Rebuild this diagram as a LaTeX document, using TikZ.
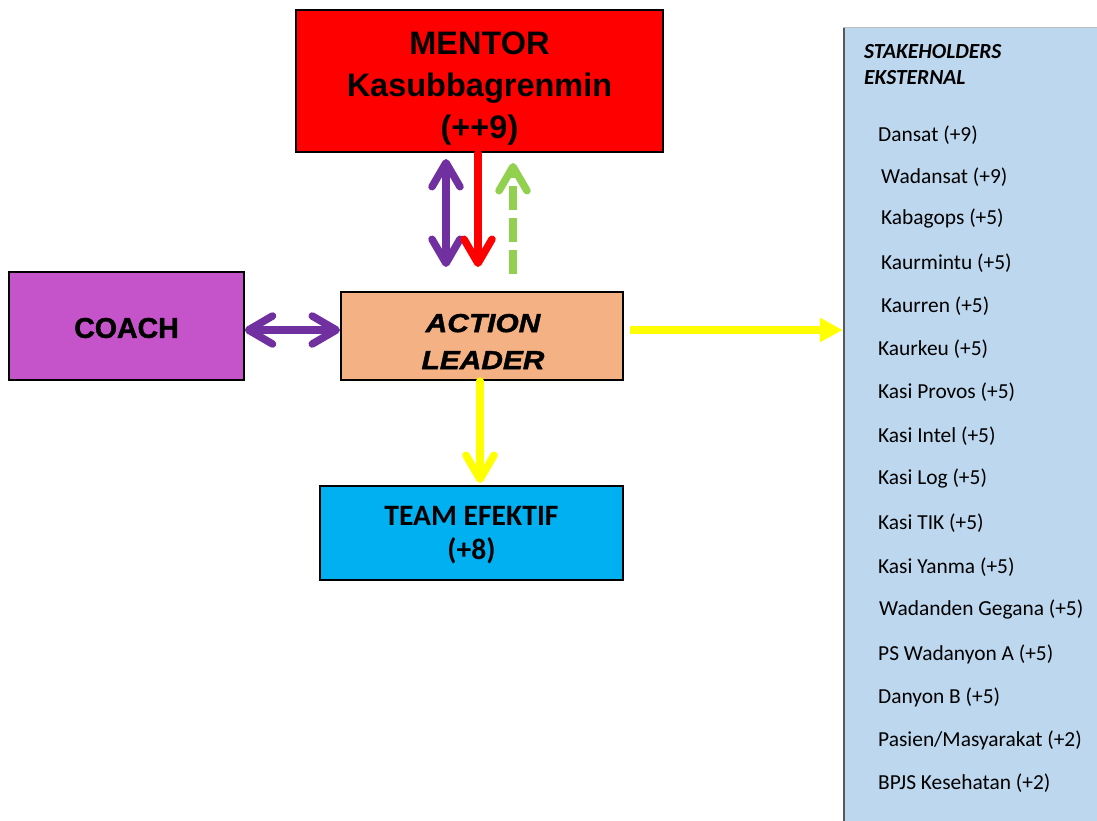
\documentclass[tikz,border=0pt]{standalone}
\usepackage{fontspec}
\setmainfont{Liberation Sans}
\newfontfamily\blackfont[FakeBold=1.5]{Liberation Sans}
\newfontfamily\actfont[FakeBold=1.5,FakeStretch=1.15]{Liberation Sans}
\newfontfamily\calfont{Carlito}
\usetikzlibrary{arrows.meta,calc}
\definecolor{cRed}{HTML}{FF0000}
\definecolor{cPurp}{HTML}{7030A0}
\definecolor{cCoach}{HTML}{C553C9}
\definecolor{cAct}{HTML}{F4B183}
\definecolor{cTeam}{HTML}{00B0F0}
\definecolor{cPanel}{HTML}{BDD7EE}
\definecolor{cGreen}{HTML}{92D050}
\definecolor{cYel}{HTML}{FFFF00}
\tikzset{
  box/.style={draw=black,line width=2pt,rectangle,inner sep=0pt},
  txt/.style={inner sep=0pt,align=center},
  chev/.style={line width=7.5pt,line cap=round},
  barb/.tip={Straight Barb[length=24pt,width=28pt,round]},
  item/.style={anchor=west,inner sep=0pt,font=\calfont\fontsize{21.4}{24}\selectfont}
}
\begin{document}
\begin{tikzpicture}[x=1pt,y=-1pt]
\useasboundingbox (0,0) rectangle (1097,821);
% panel
\node[fill=cPanel,inner sep=0pt,minimum width=254pt,minimum height=795pt] (panel) at (970,424.5) {};
\draw[line width=1pt,black!25] (843,28) -- (1097,28);
\draw[line width=2pt,black!65] (844,28) -- (844,821);
\node[anchor=north west,inner sep=0pt,align=left,font=\calfont\bfseries\itshape\fontsize{21.5}{26}\selectfont] (sttitle) at (864,44) {STAKEHOLDERS\\EKSTERNAL};
\foreach \t/\xx/\yy [count=\i] in {{Dansat (+9)}/878/135, {Wadansat (+9)}/881/177, {Kabagops (+5)}/881/219, {Kaurmintu (+5)}/881/263, {Kaurren (+5)}/881/306, {Kaurkeu (+5)}/878/349, {Kasi Provos (+5)}/878/392, {Kasi Intel (+5)}/878/436, {Kasi Log (+5)}/878/479, {Kasi TIK (+5)}/878/523, {Kasi Yanma (+5)}/878/567, {Wadanden Gegana (+5)}/879/610, {PS Wadanyon A (+5)}/878/654, {Danyon B (+5)}/878/697, {Pasien/Masyarakat (+2)}/878/740, {BPJS Kesehatan (+2)}/878/783}
  \node[item] (s\i) at (\xx,\yy) {\t};
% boxes
\node[box,fill=cRed,minimum width=367pt,minimum height=142pt] (mentor) at (479.5,81) {};
\node[txt,font=\bfseries\fontsize{32.5}{42}\selectfont] (mentortxt) at (479.5,88.4) {MENTOR\\Kasubbagrenmin\\(++9)};
\node[box,fill=cCoach,line width=1.5pt,minimum width=235pt,minimum height=108pt] (coach) at (126.5,326) {};
\node[txt,font=\blackfont\bfseries\fontsize{28.5}{32}\selectfont] (coachtxt) at (126.5,328) {COACH};
\node[box,fill=cAct,minimum width=282pt,minimum height=88pt] (action) at (482,336) {};
\node[txt,font=\actfont\bfseries\itshape\fontsize{26}{37}\selectfont] (actiontxt) at (483,341.5) {ACTION\\LEADER};
\node[box,fill=cTeam,minimum width=303pt,minimum height=94pt] (team) at (471.5,533) {};
\node[txt,font=\calfont\bfseries\fontsize{29.6}{34}\selectfont] (teamtxt) at (471.5,535) {TEAM EFEKTIF\\(+8)};
% arrows
\draw[chev,cPurp,{barb}-{barb}] ([xshift=-33.5pt,yshift=-6pt]mentor.south) -- ([xshift=-36pt,yshift=24pt]action.north);
\draw[chev,cRed,-{barb}] ([xshift=-1.5pt]mentor.south) -- ([xshift=-4pt,yshift=24pt]action.north);
\draw[chev,cGreen,line cap=butt,dash pattern=on 24pt off 8pt,-{barb}] ([xshift=31pt,yshift=17pt]action.north) -- ([xshift=33.5pt,yshift=-10pt]mentor.south);
\draw[chev,cPurp,{barb}-{barb}] ([yshift=-4pt]coach.east) -- ([yshift=6pt]action.west);
\draw[line width=8pt,cYel,-{Triangle[length=23pt,width=23pt]}] ([xshift=6pt,yshift=6pt]action.east) -- ([yshift=94.5pt]panel.west);
\draw[chev,cYel,-{barb}] ([xshift=-2pt]action.south) -- ([xshift=8.5pt,yshift=2pt]team.north);
\end{tikzpicture}
\end{document}
